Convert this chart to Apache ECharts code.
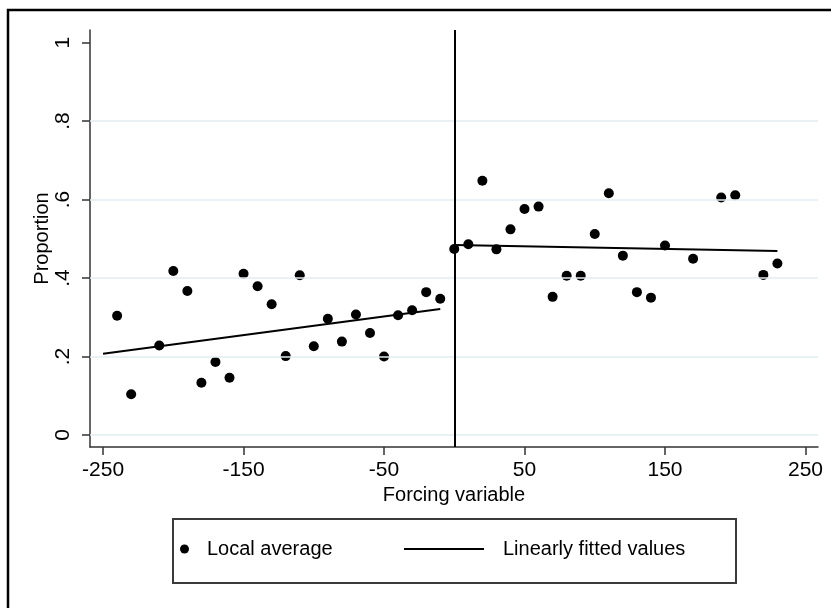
<!DOCTYPE html>
<html>
<head>
<meta charset="utf-8">
<script src="https://cdn.jsdelivr.net/npm/echarts@6/dist/echarts.min.js"></script>
<style>
  html, body { margin: 0; padding: 0; background: #fff; }
  #chart { width: 831px; height: 608px; }
</style>
</head>
<body>
<div id="chart"></div>
<script>
// Bin centres of the forcing variable and the local averages of the outcome
const leftX  = [-240, -230, -210, -200, -190, -180, -170, -160, -150, -140, -130, -120,
                -110, -100, -90, -80, -70, -60, -50, -40, -30, -20, -10];
const leftY  = [0.304, 0.104, 0.228, 0.418, 0.367, 0.133, 0.186, 0.146, 0.411, 0.379, 0.333, 0.201,
                0.407, 0.226, 0.296, 0.238, 0.307, 0.260, 0.200, 0.305, 0.318, 0.364, 0.347];
const rightX = [0, 10, 20, 30, 40, 50, 60, 70, 80, 90, 100, 110, 120, 130, 140, 150,
                170, 190, 200, 220, 230];
const rightY = [0.474, 0.486, 0.648, 0.473, 0.524, 0.576, 0.582, 0.352, 0.406, 0.406, 0.512,
                0.616, 0.457, 0.364, 0.350, 0.483, 0.449, 0.605, 0.611, 0.408, 0.437];

// Linear fits on each side of the cutoff (end points)
const fitLeftX  = [-250, -10];
const fitLeftY  = [0.207, 0.321];
const fitRightX = [0, 230];
const fitRightY = [0.484, 0.469];

// Axis ticks
const xTicks = [-250, -150, -50, 50, 150, 250];
const yTicks = [0, 0.2, 0.4, 0.6, 0.8, 1];
const yGrid  = [0, 0.2, 0.4, 0.6, 0.8];
const cutoff = 0;

const FONT = '"Liberation Sans", Arial, Helvetica, sans-serif';
const zip = (xs, ys) => xs.map((x, i) => [x, ys[i]]);
const fmtY = v => {
  if (v === 0) return '0';
  if (v === 1) return '1';
  return String(+v.toFixed(1)).replace(/^0/, '');
};

const chart = echarts.init(document.getElementById('chart'));

chart.setOption({
  animation: false,
  backgroundColor: '#fff',
  textStyle: { fontFamily: FONT },
  grid: { left: 90, right: 13, top: 30, bottom: 161 },
  xAxis: {
    type: 'value',
    min: -259.3,
    max: 258.9,
    name: 'Forcing variable',
    nameLocation: 'middle',
    nameGap: 35,
    nameTextStyle: { fontSize: 20, color: '#000', fontFamily: FONT },
    axisLine: { show: true, onZero: false, lineStyle: { color: '#333', width: 1.5 } },
    axisTick: { show: true, length: 8, customValues: xTicks, lineStyle: { color: '#333', width: 1.5 } },
    axisLabel: { customValues: xTicks, fontSize: 21, color: '#000', margin: 13, fontFamily: FONT },
    splitLine: { show: false }
  },
  yAxis: {
    type: 'value',
    min: -0.0306,
    max: 1.032,
    name: 'Proportion',
    nameLocation: 'middle',
    nameGap: 38,
    nameMoveOverlap: false,
    nameTextStyle: { fontSize: 20, color: '#000', fontFamily: FONT },
    axisLine: { show: true, onZero: false, lineStyle: { color: '#333', width: 1.5 } },
    axisTick: { show: true, length: 8, customValues: yTicks, lineStyle: { color: '#333', width: 1.5 } },
    axisLabel: { customValues: yTicks, rotate: 90, fontSize: 21, color: '#000', margin: 16,
                 fontFamily: FONT, formatter: fmtY },
    splitLine: { show: false }
  },
  legend: [
    {
      data: [{ name: 'Local average', icon: 'circle', itemStyle: { color: '#000', opacity: 1 } }],
      left: 180, top: 539, padding: 0,
      itemWidth: 9, itemHeight: 9,
      textStyle: { fontSize: 20, color: '#000', fontFamily: FONT, padding: [0, 0, 0, 13] },
      selectedMode: false
    },
    {
      data: [{ name: 'Linearly fitted values', icon: 'rect', itemStyle: { color: '#000' } }],
      left: 404, top: 539, padding: 0,
      itemWidth: 80, itemHeight: 2,
      textStyle: { fontSize: 20, color: '#000', fontFamily: FONT, padding: [0, 0, 0, 14] },
      selectedMode: false
    }
  ],
  graphic: [
    { type: 'rect', silent: true, z: 0,
      shape: { x: 8, y: 10, width: 1000, height: 1000 },
      style: { fill: 'none', stroke: '#000', lineWidth: 2.5 } },
    { type: 'rect', silent: true, z: 0,
      shape: { x: 173, y: 519, width: 563, height: 64 },
      style: { fill: 'none', stroke: '#3a3a3a', lineWidth: 2 } }
  ],
  series: [
    {
      // light horizontal reference lines
      name: 'grid', type: 'line', data: [], z: 1, silent: true,
      markLine: {
        silent: true, symbol: 'none', animation: false,
        label: { show: false },
        lineStyle: { color: '#e2ecf0', width: 1.5, type: 'solid' },
        data: yGrid.map(v => ({ yAxis: v }))
      }
    },
    {
      name: 'Local average', type: 'scatter', z: 3,
      symbol: 'circle', symbolSize: 10,
      itemStyle: { color: '#000', opacity: 1 },
      data: zip(leftX, leftY).concat(zip(rightX, rightY)),
      markLine: {
        silent: true, symbol: 'none', animation: false,
        label: { show: false },
        lineStyle: { color: '#000', width: 2, type: 'solid' },
        data: [{ xAxis: cutoff }]
      }
    },
    {
      name: 'Linearly fitted values', type: 'line', z: 4,
      symbol: 'none', lineStyle: { color: '#000', width: 2 }, itemStyle: { color: '#000' },
      data: zip(fitLeftX, fitLeftY)
    },
    {
      name: 'Linearly fitted values', type: 'line', z: 4,
      symbol: 'none', lineStyle: { color: '#000', width: 2 }, itemStyle: { color: '#000' },
      data: zip(fitRightX, fitRightY)
    }
  ]
});
</script>
</body>
</html>
